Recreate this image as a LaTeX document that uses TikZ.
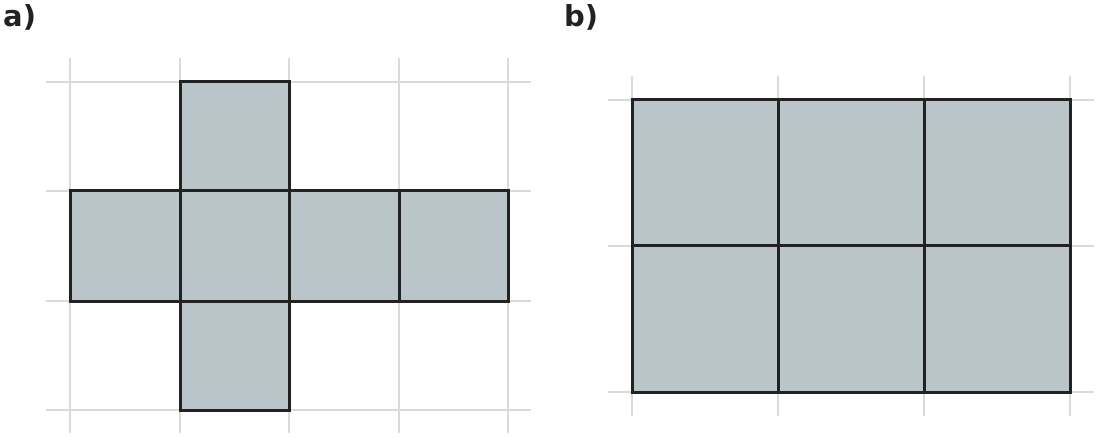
\documentclass[tikz,border=0pt]{standalone}
\usepackage{fontspec}
\setmainfont{DejaVu Sans}
\tikzset{gridline/.style={draw=gridgray, line width=2pt}}
\tikzset{face/.style={fill=facefill, draw=edgedark, line width=3pt, line join=miter}}
\tikzset{panellabel/.style={font=\bfseries\fontsize{29}{31}\selectfont, anchor=base west, inner sep=0pt, text=edgedark}}
\definecolor{gridgray}{HTML}{DADADA}
\definecolor{facefill}{HTML}{BAC5CA}
\definecolor{edgedark}{HTML}{222222}

\begin{document}
\begin{tikzpicture}[x=1pt, y=-1pt]
    \useasboundingbox (0,0) rectangle (1097,438);

    % panel a: grid
    \foreach \x in {70,180,289,399,508} {
        \draw[gridline] (\x,58) -- (\x,433);
    }
    \foreach \y in {82,191,301,410} {
        \draw[gridline] (46,\y) -- (531,\y);
    }
    % panel a: cross net
    \draw[face] (180,82) rectangle (289,191);
    \draw[face] (70,191) rectangle (180,301);
    \draw[face] (180,191) rectangle (289,301);
    \draw[face] (289,191) rectangle (399,301);
    \draw[face] (399,191) rectangle (508,301);
    \draw[face] (180,301) rectangle (289,410);

    % panel b: grid
    \foreach \x in {632,778,924,1070} {
        \draw[gridline] (\x,76) -- (\x,416);
    }
    \foreach \y in {100,246,392} {
        \draw[gridline] (608,\y) -- (1094,\y);
    }
    % panel b: 2 x 3 block
    \foreach \x/\xx in {632/778,778/924,924/1070} {
        \draw[face] (\x,100) rectangle (\xx,246);
        \draw[face] (\x,246) rectangle (\xx,392);
    }

    \node[panellabel] (labela) at (3,27) {a)};
    \node[panellabel] (labelb) at (564,27) {b)};
\end{tikzpicture}
\end{document}
